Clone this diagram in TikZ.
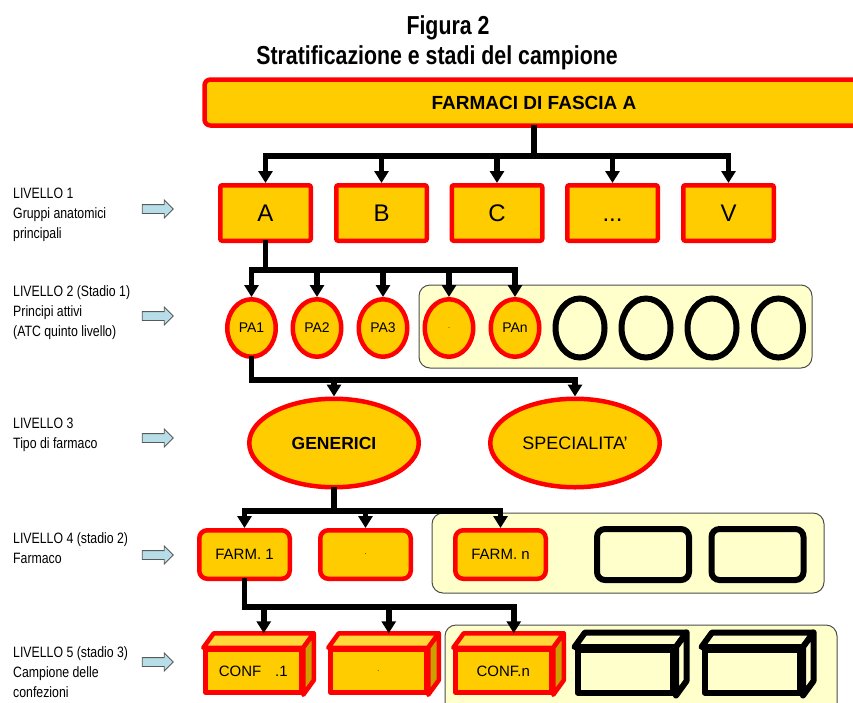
\documentclass[tikz,border=0pt]{standalone}
\usepackage{fontspec}
\setmainfont{Liberation Sans}
\newfontfamily\narrowfont[FakeStretch=0.82]{Liberation Sans}
\usetikzlibrary{shapes.geometric,shapes.arrows,arrows.meta,calc}

\definecolor{gold}{HTML}{FFCC00}
\definecolor{goldtop}{HTML}{FFD93A}
\definecolor{goldside}{HTML}{CC9F00}
\definecolor{cream}{HTML}{FFFFCC}
\definecolor{hint}{HTML}{B7DEE8}
\definecolor{rim}{HTML}{FF0000}

% a box drawn as a solid: front face node #1 centred at (#2,#3), style #4, text #5
\newcommand\solidbox[5]{%
  \node[#4, minimum width=95.5pt, minimum height=42.5pt] (#1) at (#2,#3) {#5};
  \draw[#4, fill=#4top] (#1.north west) -- ($(#1.north west)+(10.5,-14.5)$) -- ($(#1.north east)+(10.5,-14.5)$) -- (#1.north east) -- cycle;
  \draw[#4, fill=#4side] (#1.north east) -- ($(#1.north east)+(10.5,-14.5)$) -- ($(#1.south east)+(10.5,-14.5)$) -- (#1.south east) -- cycle;
  \coordinate (#1t) at ($(#1.north)+(10.5,-14.5)$);
}

\begin{document}
\begin{tikzpicture}[x=1pt,y=-1pt,
  txt/.style={inner sep=0pt},
  side/.style={txt, anchor=west, align=left, font=\narrowfont\fontsize{15}{20}\selectfont},
  hintarrow/.style={single arrow, draw=black!65, fill=hint, line width=0.8pt,
    inner xsep=0pt, inner ysep=4pt, single arrow head extend=4.5pt,
    single arrow head indent=0pt, minimum height=31pt},
  redbox/.style={draw=rim, line width=4.5pt, fill=gold, inner sep=0pt},
  lvlone/.style={redbox, rounded corners=2pt, minimum width=90.5pt, minimum height=55.5pt,
    font=\fontsize{24}{24}\selectfont, text height=17.2pt, text depth=0pt},
  redring/.style={redbox, ellipse, minimum width=48.5pt, minimum height=57.5pt,
    font=\fontsize{14}{14}\selectfont},
  blackring/.style={ellipse, draw=black, line width=6pt, fill=cream,
    minimum width=49pt, minimum height=59pt, inner sep=0pt},
  oval/.style={redbox, ellipse, minimum width=169.5pt, minimum height=88.5pt},
  drug/.style={redbox, rounded corners=8pt, minimum width=90.5pt, minimum height=48.5pt,
    font=\fontsize{15}{15}\selectfont},
  blackdrug/.style={draw=black, line width=6pt, fill=cream, rounded corners=8pt,
    minimum width=92pt, minimum height=51pt, inner sep=0pt},
  panel/.style={draw=black!70, line width=1pt, fill=cream, rounded corners=11pt, inner sep=0pt},
  redcube/.style={draw=rim, line width=4.5pt, fill=gold, line join=round, inner sep=0pt,
    font=\fontsize{15}{15}\selectfont},
  blackcube/.style={draw=black, line width=6pt, fill=cream, line join=round, inner sep=0pt},
  bar/.style={line width=5.5pt, line cap=rect},
  arr/.style={line width=5.5pt, -{Triangle[width=14pt,length=12pt]}},
]
\colorlet{redcubetop}{goldtop}
\colorlet{redcubeside}{goldside}
\colorlet{blackcubetop}{cream}
\colorlet{blackcubeside}{cream}
\useasboundingbox (0,0) rectangle (853,702);

% title
\node[txt, font=\narrowfont\bfseries\fontsize{26}{26}\selectfont] (t1) at (448,28) {Figura 2};
\node[txt, font=\narrowfont\bfseries\fontsize{26}{26}\selectfont] (t2) at (437,58) {Stratificazione e stadi del campione};

% level captions on the left
\node[side] (s1) at (13,215) {LIVELLO 1\\Gruppi anatomici\\principali};
\node[side] (s2) at (13,313) {LIVELLO 2 (Stadio 1)\\Principi attivi\\(ATC quinto livello)};
\node[side] (s3) at (13,434.5) {LIVELLO 3\\Tipo di farmaco};
\node[side] (s4) at (13,548.5) {LIVELLO 4 (stadio 2)\\Farmaco};
\node[side] (s5) at (13,672) {LIVELLO 5 (stadio 3)\\Campione delle\\confezioni};
\foreach \i/\y in {1/209,2/316,3/438,4/555,5/662}
  \node[hintarrow] (h\i) at (155.5,\y) {};

% background panels
\node[panel, minimum width=393pt, minimum height=83pt] (p2) at (615.5,326.5) {};
\node[panel, minimum width=392pt, minimum height=80pt] (p4) at (628,553) {};
\node[panel, minimum width=392pt, minimum height=100pt] (p5) at (641,675) {};

% top banner
\node[redbox, rounded corners=6pt, minimum width=659pt, minimum height=46pt,
  font=\bfseries\fontsize{19}{19}\selectfont] (top) at (534,102.5) {FARMACI DI FASCIA A};

% level 1
\node[lvlone] (A) at (265.5,213) {A};
\node[lvlone] (B) at (381.5,213) {B};
\node[lvlone] (C) at (497,213) {C};
\node[lvlone] (D) at (612.5,213) {...};
\node[lvlone] (V) at (728.5,213) {V};

% level 2
\node[redring] (PA1) at (251.5,328) {PA1};
\node[redring] (PA2) at (317,328) {PA2};
\node[redring] (PA3) at (383,328) {PA3};
\node[redring, font=\fontsize{7}{7}\selectfont] (PAd) at (449,328) {.};
\node[redring] (PAn) at (515,328) {PAn};
\foreach \i/\x in {1/580,2/646,3/712,4/778.5}
  \node[blackring] (R\i) at (\x,328) {};

% level 3
\node[oval, font=\bfseries\fontsize{17.5}{17.5}\selectfont] (GEN) at (334,443) {GENERICI};
\node[oval, font=\fontsize{18}{18}\selectfont] (SPE) at (575,443) {SPECIALITA'};

% level 4
\node[drug] (F1) at (244.5,554.5) {FARM. 1};
\node[drug, font=\fontsize{7}{7}\selectfont] (Fd) at (365.5,554.5) {.};
\node[drug] (Fn) at (500.5,554.5) {FARM. n};
\node[blackdrug] (K1) at (643,554.5) {};
\node[blackdrug] (K2) at (757.5,554.5) {};

% level 5
\solidbox{C1}{253.25}{671.25}{redcube}{CONF\hspace{14pt}.1}
\solidbox{Cd}{378.25}{671.25}{redcube}{\fontsize{7}{7}\selectfont .}
\solidbox{Cn}{503.25}{671.25}{redcube}{CONF.n}
\solidbox{X1}{625.25}{671.25}{blackcube}{}
\solidbox{X2}{752.25}{671.25}{blackcube}{}

% tree connectors
\coordinate (j1) at (0,156);
\coordinate (j2) at (0,270);
\coordinate (j3) at (0,380);
\coordinate (j4) at (0,511);
\coordinate (j5) at (0,607);

\draw[bar] (top.south) -- (top.south |- j1);
\draw[bar] (j1 -| A.north) -- (j1 -| V.north);
\foreach \n in {A,B,C,D,V} \draw[arr] (j1 -| \n.north) -- (\n.north);

\draw[bar] (A.south) -- (A.south |- j2);
\draw[bar] (j2 -| PA1.north) -- (j2 -| PAn.north);
\foreach \n in {PA1,PA2,PA3,PAd,PAn} \draw[arr] (j2 -| \n.north) -- (\n.north);

\draw[bar] (PA1.south) -- (PA1.south |- j3);
\draw[bar] (j3 -| PA1.south) -- (j3 -| SPE.north);
\foreach \n in {GEN,SPE} \draw[arr] (j3 -| \n.north) -- (\n.north);

\draw[bar] (GEN.south) -- (GEN.south |- j4);
\draw[bar] (j4 -| F1.north) -- (j4 -| Fn.north);
\foreach \n in {F1,Fd,Fn} \draw[arr] (j4 -| \n.north) -- (\n.north);

\draw[bar] (F1.south) -- (F1.south |- j5);
\draw[bar] (j5 -| F1.south) -- (j5 -| Cnt);
\foreach \n in {C1t,Cdt,Cnt} \draw[arr] (j5 -| \n) -- (\n);
\end{tikzpicture}
\end{document}
